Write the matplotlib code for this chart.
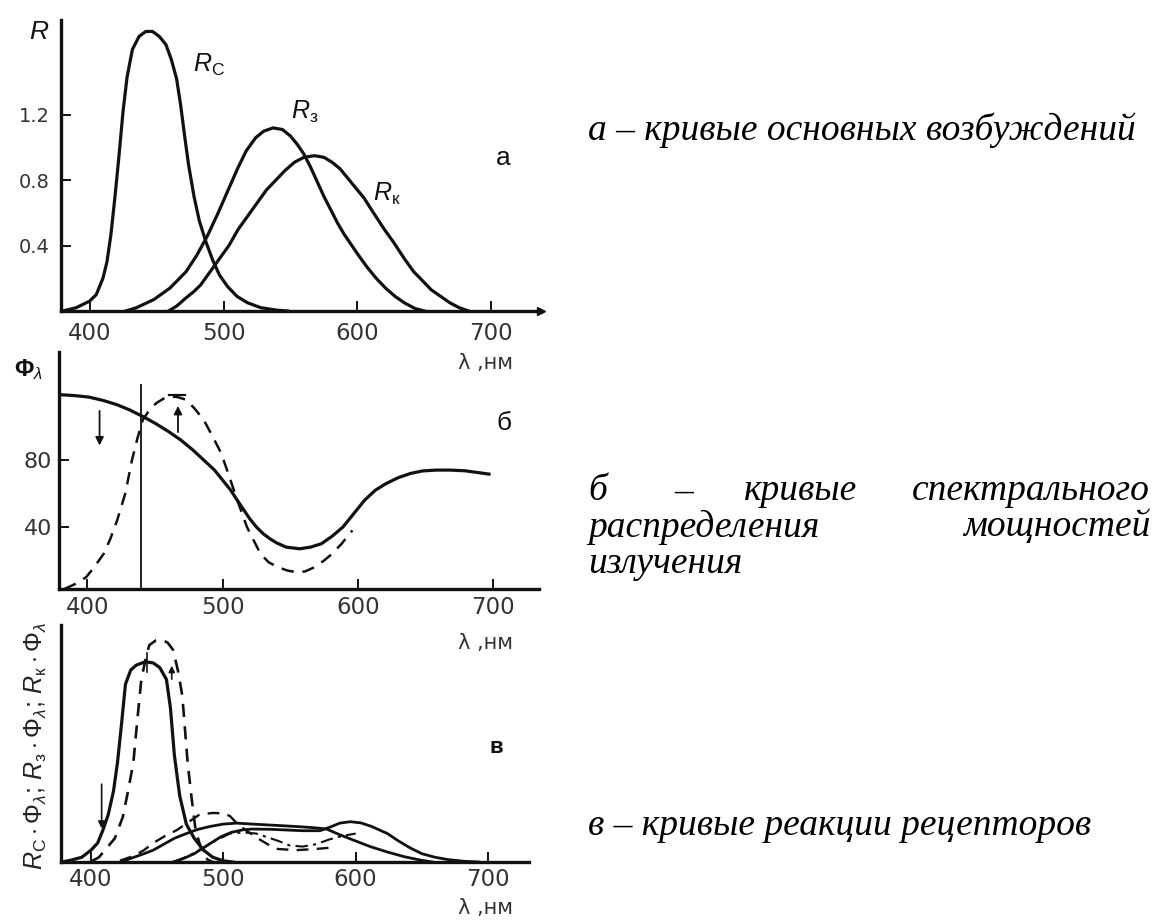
import matplotlib
matplotlib.use('Agg')
import matplotlib.pyplot as plt

W, H = 1156, 921

plt.rcParams['font.family'] = ['DejaVu Sans']
plt.rcParams['mathtext.fontset'] = 'custom'
plt.rcParams['mathtext.rm'] = 'Liberation Sans'
plt.rcParams['mathtext.it'] = 'Liberation Sans:italic'
plt.rcParams['mathtext.bf'] = 'Liberation Sans:bold'

# ---- panel a: main excitation curves R ----
rc_x = [380, 390, 400, 405, 410, 413, 416, 419, 422, 425, 428, 432, 437, 442, 447, 452,
        457, 461, 465, 468, 471, 474, 478, 482, 487, 492, 497, 503, 510, 518, 528, 540, 548]
rc_y = [0.0, 0.02, 0.06, 0.10, 0.20, 0.30, 0.47, 0.70, 0.95, 1.22, 1.43, 1.60, 1.68, 1.71, 1.71, 1.68,
        1.63, 1.54, 1.42, 1.26, 1.07, 0.89, 0.70, 0.55, 0.42, 0.31, 0.22, 0.15, 0.09, 0.05, 0.02, 0.005, 0.0]

r3_x = [427, 435, 448, 460, 472, 480, 488, 496, 504, 511, 517, 524, 530, 537, 544, 550, 555,
        560, 565, 570, 575, 580, 585, 590, 595, 600, 607, 614, 621, 628, 635, 643, 650]
r3_y = [0.0, 0.02, 0.07, 0.14, 0.24, 0.34, 0.46, 0.60, 0.75, 0.88, 0.98, 1.06, 1.10, 1.12, 1.11, 1.07, 1.02,
        0.96, 0.88, 0.79, 0.70, 0.62, 0.54, 0.47, 0.41, 0.35, 0.27, 0.20, 0.14, 0.09, 0.05, 0.015, 0.0]

rk_x = [459, 465, 472, 478, 483, 490, 497, 504, 511, 518, 525, 532, 539, 546, 553, 560, 568,
        575, 581, 587, 593, 600, 605, 612, 620, 627, 635, 642, 648, 655, 662, 669, 676, 683]
rk_y = [0.0, 0.03, 0.08, 0.12, 0.16, 0.24, 0.32, 0.40, 0.50, 0.58, 0.66, 0.74, 0.80, 0.86, 0.91, 0.94, 0.95,
        0.94, 0.91, 0.87, 0.81, 0.74, 0.69, 0.60, 0.50, 0.42, 0.32, 0.24, 0.19, 0.13, 0.09, 0.05, 0.02, 0.0]

# ---- panel б: spectral power distributions ----
phi_x = [380, 390, 401, 412, 422, 431, 441, 450, 460, 469, 478, 486, 494, 502, 506, 510, 515, 520, 525,
         530, 535, 540, 547, 557, 565, 573, 581, 589, 597, 605, 613, 621, 630, 639, 648, 658, 668, 679, 689, 697]
phi_y = [119, 118.5, 117.6, 115.5, 113, 110, 106, 102, 97, 92, 86, 80, 74, 66, 62, 57, 51, 45, 40,
         36, 33, 30.5, 28, 27, 28, 30, 34.5, 40, 48, 56, 62, 66, 69.5, 72, 73.5, 74, 74, 73.6, 72.5, 71.6]

phi2_x = [383, 391, 399, 405, 412, 417, 422, 428, 433, 437, 441, 446, 451, 457, 462, 467, 473, 479,
          486, 492, 499, 505, 510, 514, 518, 523, 528, 534, 541, 548, 555, 561, 568, 575, 581, 588, 596]
phi2_y = [3, 6, 10, 16, 24, 33, 44, 60, 80, 93, 104, 110, 114, 117, 118, 117.5, 116, 111,
          104, 95, 84, 70, 58, 49, 40, 32, 24, 19, 16, 14, 13, 13.5, 16, 20, 24, 30, 38]

ref_line_x = 440
ref_line_top = 125

# ---- panel в: receptor responses ----
rcphi_x = [378, 385, 393, 400, 405, 409, 413, 417, 420, 423, 426, 430, 434, 441, 447, 452,
           457, 460, 463, 467, 472, 478, 485, 492, 500, 507]
rcphi_y = [0, 0.8, 2, 5, 8, 13.5, 20, 30, 42, 58, 75, 81, 83, 84.5, 84, 82,
           77, 65, 45, 28, 16, 10, 5, 2, 0.5, 0]

rcphi2_x = [401, 406, 412, 418, 424, 428, 432, 435, 438, 441, 444, 449, 453, 458, 462, 466,
            469, 471, 473, 476, 479, 483, 488, 492]
rcphi2_y = [0.5, 2, 6, 10, 19, 30, 42, 60, 77, 85, 91.5, 93.5, 94, 92.5, 89.5, 80,
            70, 56, 42, 27, 13.5, 6, 1, 0]

r3phi_x = [422, 430, 440, 447, 455, 463, 472, 481, 490, 500, 510, 522, 535, 548, 560, 570,
           578, 588, 598, 611, 624, 637, 649, 658]
r3phi_y = [0, 1.5, 3.5, 5, 7.5, 10, 12, 13.8, 15, 16, 16.4, 16, 15.6, 15.2, 14.8, 14.4,
           13.9, 11.5, 9.3, 6.5, 4.2, 2.2, 0.8, 0]

rkphi_x = [462, 470, 478, 485, 492, 498, 506, 515, 522, 535, 548, 560, 573, 581, 588, 596,
           604, 612, 618, 624, 632, 641, 650, 660, 670, 682, 693]
rkphi_y = [0, 1.5, 3.5, 6, 8.5, 10.6, 12.5, 13.6, 13.9, 13.8, 13.5, 13.2, 13.2, 14.8, 16.4, 17,
           16.5, 15, 13.5, 12, 9, 6, 3.5, 2, 1, 0.3, 0]

r3phi2_x = [422, 432, 440, 447, 456, 465, 474, 482, 492, 500, 505, 510, 518, 528, 535, 541,
            555, 570, 580]
r3phi2_y = [0.6, 2.5, 5, 8, 11, 13.5, 17, 20, 20.7, 20.5, 19.4, 16.4, 13, 9.3, 7, 5.5,
            5, 5.5, 6]

rkphi2_x = [463, 475, 485, 495, 505, 515, 525, 533, 541, 550, 560, 570, 580, 590, 600]
rkphi2_y = [0, 3, 6, 9.3, 12, 12.5, 12, 10.5, 9, 7, 6.5, 7.5, 9.5, 11, 12]

xticks = [400, 500, 600, 700]
xtick_labels = ['400', '500', '600', '700']

INK = '#111111'
GREY = '#333333'
LW = 2.3


def px_axes(fig, x0, y0, x1, y1):
    return fig.add_axes([x0 / W, 1 - y1 / H, (x1 - x0) / W, (y1 - y0) / H])


def style(ax, xlim, ylim, yticks, ylabels, xpad, ypad, ysize=14):
    ax.set_xlim(*xlim)
    ax.set_ylim(*ylim)
    ax.patch.set_alpha(0)
    for s in ['top', 'right']:
        ax.spines[s].set_visible(False)
    for s in ['left', 'bottom']:
        ax.spines[s].set_linewidth(2.4)
        ax.spines[s].set_color(INK)
    ax.set_xticks(xticks)
    ax.set_xticklabels(xtick_labels)
    ax.set_yticks(yticks)
    ax.set_yticklabels(ylabels)
    ax.tick_params(direction='in', length=7, width=1.4, color=INK, labelcolor=GREY)
    ax.tick_params(axis='x', pad=xpad, labelsize=16.5)
    ax.tick_params(axis='y', pad=ypad, labelsize=ysize)


def ftext(fig, x, y, s, **kw):
    fig.text(x / W, 1 - y / H, s, **kw)


fig = plt.figure(figsize=(W / 100, H / 100), dpi=100)

# panel a
ax1 = px_axes(fig, 61, 20, 541, 311)
style(ax1, (378.7, 737), (0, 1.78), [0.4, 0.8, 1.2], ['0.4', '0.8', '1.2'], 8, 8)
ax1.plot(rc_x, rc_y, color=INK, lw=LW)
ax1.plot(r3_x, r3_y, color=INK, lw=LW)
ax1.plot(rk_x, rk_y, color=INK, lw=LW)
ax1.plot(1, 0, marker='>', ms=6, color=INK, transform=ax1.transAxes, clip_on=False)

# panel б
ax2 = px_axes(fig, 59, 352, 539, 589)
style(ax2, (379, 734), (3, 144.5), [40, 80], ['40', '80'], 5, 5, ysize=16)
ax2.plot(phi_x, phi_y, color=INK, lw=LW)
ax2.plot(phi2_x, phi2_y, color=INK, lw=1.8, dashes=(5, 3.5))
ax2.plot([ref_line_x, ref_line_x], [3, ref_line_top], color=INK, lw=1.3)
ax2.annotate('', xy=(409, 87), xytext=(409, 111),
             arrowprops=dict(arrowstyle='-|>', color=INK, lw=1.3, mutation_scale=12))
ax2.annotate('', xy=(467, 114), xytext=(467, 95),
             arrowprops=dict(arrowstyle='-|>', color=INK, lw=1.3, mutation_scale=12))
ax2.plot([460, 472], [119, 119], color=INK, lw=1.6)

# panel в
ax3 = px_axes(fig, 61, 625, 529, 862)
style(ax3, (377.3, 731), (0, 100), [], [], 4, 6)
ax3.plot(rcphi_x, rcphi_y, color=INK, lw=LW)
ax3.plot(rcphi2_x, rcphi2_y, color=INK, lw=1.9, dashes=(5, 3.5))
ax3.plot(r3phi_x, r3phi_y, color=INK, lw=2.0)
ax3.plot(rkphi_x, rkphi_y, color=INK, lw=2.0)
ax3.plot(r3phi2_x, r3phi2_y, color=INK, lw=1.7, dashes=(5, 3.5))
ax3.plot(rkphi2_x, rkphi2_y, color=INK, lw=1.5, dashes=(6, 2.5, 1.5, 2.5))
ax3.annotate('', xy=(408, 13), xytext=(408, 34),
             arrowprops=dict(arrowstyle='-|>', color=INK, lw=1.2, mutation_scale=10))
ax3.plot([442, 442], [80, 88], color=INK, lw=1.2)
ax3.annotate('', xy=(461, 84), xytext=(461, 76),
             arrowprops=dict(arrowstyle='-|>', color=INK, lw=1.2, mutation_scale=9))

# axis names and curve labels
ftext(fig, 29, 32, '$R$', fontsize=19, va='center', color=INK)
ftext(fig, 193, 65, r'$R_{\mathrm{С}}$', fontsize=18, va='center', color=INK)
ftext(fig, 291, 112, r'$R_{\mathrm{з}}$', fontsize=18, va='center', color=INK)
ftext(fig, 373, 194, r'$R_{\mathrm{к}}$', fontsize=18, va='center', color=INK)
ftext(fig, 503, 158, 'а', fontsize=19, va='center', ha='center', color=INK, family='Liberation Sans')
ftext(fig, 504, 423, 'б', fontsize=19, va='center', ha='center', color=INK, family='Liberation Sans')
ftext(fig, 496, 747, 'в', fontsize=16, va='center', ha='center', color=INK, weight='bold',
      family='Liberation Sans')

ftext(fig, 14, 370, r'$\mathbf{\Phi}_{\lambda}$', fontsize=17, va='center', color=INK)
for y in [363, 643, 908]:
    ftext(fig, 458, y, 'λ ,нм', fontsize=15, va='center', color=GREY)
ftext(fig, 36, 746, r'$R_{\mathrm{С}}\cdot\Phi_{\lambda};\,R_{\mathrm{з}}\cdot\Phi_{\lambda};\,'
                   r'R_{\mathrm{к}}\cdot\Phi_{\lambda}$',
      fontsize=18, rotation=90, va='center', ha='center', color='#222222')

# captions on the right
cap = dict(family='Liberation Serif', style='italic', fontsize=27, va='center', color='black')
ftext(fig, 588, 130, 'а – кривые основных возбуждений', **cap)
ftext(fig, 588, 491, 'б', **cap)
ftext(fig, 674, 491, '–', **cap)
ftext(fig, 744, 491, 'кривые', **cap)
ftext(fig, 1150, 491, 'спектрального', ha='right', **cap)
ftext(fig, 588, 527, 'распределения', **cap)
ftext(fig, 1150, 527, 'мощностей', ha='right', **cap)
ftext(fig, 588, 564, 'излучения', **cap)
ftext(fig, 588, 826, 'в – кривые реакции рецепторов', **cap)

fig.savefig('out.png', dpi=100)
